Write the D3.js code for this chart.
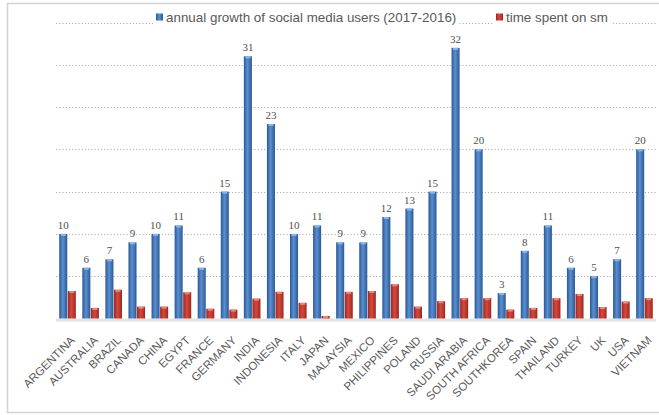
<!DOCTYPE html>
<html>
<head>
<meta charset="utf-8">
<script src="https://cdn.jsdelivr.net/npm/d3@7"></script>
<style>
body { margin: 0; background: #fff; }
svg { display: block; }
</style>
</head>
<body>
<svg width="659" height="415"></svg>
<script>
var countries = ["ARGENTINA", "AUSTRALIA", "BRAZIL", "CANADA", "CHINA", "EGYPT", "FRANCE", "GERMANY",
  "INDIA", "INDONESIA", "ITALY", "JAPAN", "MALAYSIA", "MEXICO", "PHILIPPINES", "POLAND", "RUSSIA",
  "SAUDI ARABIA", "SOUTH AFRICA", "SOUTHKOREA", "SPAIN", "THAILAND", "TURKEY", "UK", "USA", "VIETNAM"];
var growth = [10, 6, 7, 9, 10, 11, 6, 15, 31, 23, 10, 11, 9, 9, 12, 13, 15, 32, 20, 3, 8, 11, 6, 5, 7, 20];
var timeSpent = [3.25, 1.25, 3.4, 1.4, 1.4, 3.1, 1.15, 1.05, 2.35, 3.15, 1.85, 0.3, 3.15, 3.25, 4.05, 1.4, 2.05,
  2.4, 2.4, 1.05, 1.25, 2.4, 2.9, 1.35, 2.0, 2.4];
var seriesNames = ["annual growth of social media users (2017-2016)", "time spent on sm"];
var yTicks = [5, 10, 15, 20, 25, 30, 35];

var svg = d3.select("svg"),
    width = +svg.attr("width"),
    height = +svg.attr("height");

var defs = svg.append("defs");
var grads = [["gBlue", "#2b5896", "#5a8fd0"], ["gRed", "#9e2820", "#d4493d"]];
grads.forEach(function(g) {
  var lg = defs.append("linearGradient").attr("id", g[0]).attr("x1", "0%").attr("x2", "100%");
  lg.append("stop").attr("offset", "0%").attr("stop-color", g[1]);
  lg.append("stop").attr("offset", "45%").attr("stop-color", g[2]);
  lg.append("stop").attr("offset", "100%").attr("stop-color", g[1]);
});

// frame
svg.append("rect")
    .attr("x", 7.5).attr("y", 3.5)
    .attr("width", 660).attr("height", 409)
    .attr("fill", "none")
    .attr("stroke", "#d4d4d4")
    .attr("stroke-width", 1.5);

var x = d3.scaleBand()
    .domain(countries)
    .range([56, 656])
    .paddingInner(0.28)
    .paddingOuter(0.14);

var x1 = d3.scaleBand()
    .domain([0, 1])
    .range([0, x.bandwidth()])
    .paddingInner(0.06);

var y = d3.scaleLinear()
    .domain([0, 35])
    .range([318.5, 22.5]);

svg.append("g")
    .attr("class", "grid")
  .selectAll("line")
  .data(yTicks)
  .enter().append("line")
    .attr("x1", 56).attr("x2", 656)
    .attr("y1", function(d) { return Math.round(y(d)) + 0.5; })
    .attr("y2", function(d) { return Math.round(y(d)) + 0.5; })
    .attr("stroke", "#b0b0b0")
    .attr("stroke-width", 1)
    .attr("stroke-dasharray", "1.2,2");

// floor
svg.append("rect")
    .attr("x", 56).attr("y", y(0))
    .attr("width", 600).attr("height", 3)
    .attr("fill", "#e4e4e4");

var groups = svg.append("g").selectAll("g")
  .data(countries)
  .enter().append("g")
    .attr("transform", function(d) { return "translate(" + x(d) + ",0)"; });

groups.append("rect")
    .attr("x", x1(0))
    .attr("width", x1.bandwidth())
    .attr("y", function(d, i) { return y(growth[i]); })
    .attr("height", function(d, i) { return y(0) - y(growth[i]); })
    .attr("fill", "url(#gBlue)");

groups.append("rect")
    .attr("x", x1(0) + 1.5)
    .attr("width", x1.bandwidth() - 3)
    .attr("y", function(d, i) { return y(growth[i]); })
    .attr("height", 2)
    .attr("fill", "#8fb4e3");

groups.append("rect")
    .attr("x", x1(1))
    .attr("width", x1.bandwidth())
    .attr("y", function(d, i) { return y(timeSpent[i]); })
    .attr("height", function(d, i) { return y(0) - y(timeSpent[i]); })
    .attr("fill", "url(#gRed)");

groups.append("rect")
    .attr("x", x1(1) + 1.5)
    .attr("width", x1.bandwidth() - 3)
    .attr("y", function(d, i) { return y(timeSpent[i]); })
    .attr("height", function(d, i) { return Math.min(2, y(0) - y(timeSpent[i])); })
    .attr("fill", "#e58a80");

groups.append("text")
    .attr("x", x1(0) + x1.bandwidth() / 2)
    .attr("y", function(d, i) { return y(growth[i]) - 5; })
    .attr("text-anchor", "middle")
    .attr("font-family", "'Liberation Serif', serif")
    .attr("font-size", 11)
    .attr("fill", "#505050")
    .text(function(d, i) { return growth[i]; });

svg.append("g").selectAll("text")
  .data(countries)
  .enter().append("text")
    .attr("transform", function(d) { return "translate(" + (x(d) + x.bandwidth() / 2 + 8) + ",341) rotate(-45)"; })
    .attr("text-anchor", "end")
    .attr("font-family", "'Liberation Sans', Arial, sans-serif")
    .attr("font-size", 11.5)
    .attr("fill", "#595959")
    .text(function(d) { return d; });

// legend
var legend = svg.append("g")
    .attr("font-family", "'Liberation Sans', Arial, sans-serif")
    .attr("font-size", 13.4)
    .attr("fill", "#595959");

var lx = [155, 495];
seriesNames.forEach(function(name, i) {
  var item = legend.append("g").attr("transform", "translate(" + lx[i] + ",0)");
  var t = item.append("text")
      .attr("x", 11).attr("y", 22)
      .text(name);
  var w = t.node().getComputedTextLength();
  item.insert("rect", "text")
      .attr("x", -2).attr("y", 12)
      .attr("width", w + 16).attr("height", 14)
      .attr("fill", "#fff");
  item.append("rect")
      .attr("x", 1).attr("y", 13.5)
      .attr("width", 7).attr("height", 7)
      .attr("fill", i == 0 ? "url(#gBlue)" : "url(#gRed)");
});
</script>
</body>
</html>
